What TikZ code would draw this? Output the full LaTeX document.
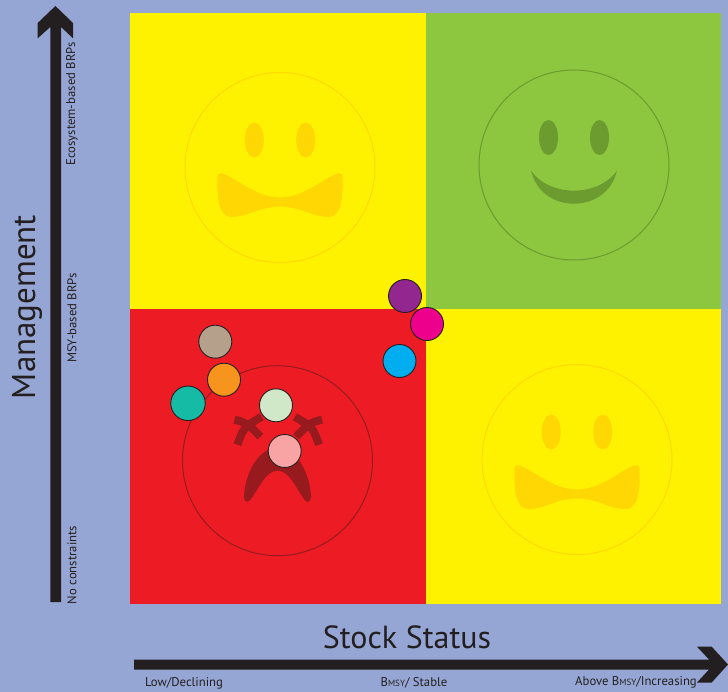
\documentclass[tikz,border=0pt]{standalone}
\usepackage{fontspec}
\setmainfont{PT Sans}
\usetikzlibrary{positioning,calc}
\definecolor{bgblue}{HTML}{96A6D4}
\definecolor{quadyellow}{HTML}{FFF200}
\definecolor{quadgreen}{HTML}{8DC63F}
\definecolor{quadred}{HTML}{ED1C24}
\definecolor{inkyellow}{HTML}{FFD803}
\definecolor{inkgreen}{HTML}{6C9C2F}
\definecolor{inkred}{HTML}{961A1E}
\definecolor{arrowink}{HTML}{231F20}
\tikzset{
  quad/.style={minimum width=296pt, minimum height=296pt, inner sep=0pt, outer sep=0pt},
  dot/.style={circle, draw=arrowink, line width=0.9pt, minimum size=33pt, inner sep=0pt},
  axistitle/.style={text=arrowink, font=\fontsize{32}{32}\selectfont, inner sep=0pt},
  ticklabel/.style={text=arrowink, font=\fontsize{12.7}{12.7}\selectfont, inner sep=0pt},
}
% eyes, outline and wavy mouth of the two neutral faces
\newcommand{\neutralface}[1]{
  \begin{scope}[shift={(#1)}]
    \draw[inkyellow, line width=1pt] (0,0) circle (95);
    \fill[inkyellow] (-25.7,-27.5) ellipse (9.5 and 17.5);
    \fill[inkyellow] (25.7,-27.5) ellipse (9.5 and 17.5);
    \fill[inkyellow] (-58,6) .. controls (-45,9) and (-25,30) .. (0,30)
      .. controls (25,30) and (45,9) .. (58,6)
      .. controls (61,5) and (62.7,7) .. (62.7,10)
      .. controls (62.7,30) and (62,49.5) .. (48,49.5)
      .. controls (32,49.5) and (20,39) .. (0,39)
      .. controls (-20,39) and (-32,49.5) .. (-48,49.5)
      .. controls (-62,49.5) and (-62.7,30) .. (-62.7,10)
      .. controls (-62.7,7) and (-61,5) .. (-58,6) -- cycle;
  \end{scope}
}
\newcommand{\bmsy}{B{\fontsize{9}{9}\selectfont MSY}}
\begin{document}
\begin{tikzpicture}[x=1pt,y=-1pt]
  \useasboundingbox (0,0) rectangle (728,692);
  \fill[bgblue] (0,0) rectangle (728,692);

  % quadrants
  \node[quad, fill=quadyellow] (topleft) at (278,161) {};
  \node[quad, fill=quadgreen, right=0pt of topleft, minimum width=295pt] (topright) {};
  \node[quad, fill=quadred, below=0pt of topleft, minimum height=295pt] (botleft) {};
  \node[quad, fill=quadyellow, right=0pt of botleft, minimum width=295pt, minimum height=295pt] (botright) {};

  % faces
  \neutralface{280,167.5}
  \neutralface{577,459.5}

  \begin{scope}[shift={(574,165)}]
    \draw[inkgreen, line width=1pt] (0,0) circle (95);
    \fill[inkgreen] (-25.5,-27.5) ellipse (9.5 and 17.5);
    \fill[inkgreen] (25.5,-27.5) ellipse (9.5 and 17.5);
    \fill[inkgreen] (-43,5.5) .. controls (-33,20) and (-15,25.7) .. (0,25.7)
      .. controls (15,25.7) and (33,20) .. (43,5.5)
      .. controls (38,27) and (20,38.7) .. (0,38.7)
      .. controls (-20,38.7) and (-38,27) .. (-43,5.5) -- cycle;
  \end{scope}

  \begin{scope}[shift={(277.5,460.7)}]
    \draw[inkred, line width=1pt] (0,0) circle (95);
    \foreach \s/\d in {-1/0,1/1.5}{
      \draw[inkred, line width=8pt] (\s*43+\d,-41) .. controls (\s*31+\d,-38) .. (\s*17+\d,-24);
      \draw[inkred, line width=8pt] (\s*40+\d,-16) .. controls (\s*34+\d,-33) .. (\s*16+\d,-44);
    }
    \fill[inkred] (-33.5,36) .. controls (-33,15) and (-20,-13) .. (0,-13)
      .. controls (20,-13) and (33,15) .. (33.5,36)
      .. controls (33.5,41) and (30,43) .. (27,39)
      .. controls (18,27) and (12,10) .. (0,10)
      .. controls (-12,10) and (-18,27) .. (-27,39)
      .. controls (-30,43) and (-33.5,41) .. (-33.5,36) -- cycle;
  \end{scope}

  % dots
  \node[dot, fill={rgb,255:red,181;green,160;blue,140}] (brown) at (215.3,341.7) {};
  \node[dot, fill={rgb,255:red,247;green,148;blue,29}] (orange) at (224,379.7) {};
  \node[dot, fill={rgb,255:red,22;green,187;blue,166}, minimum size=34.5pt] (teal) at (188,403.3) {};
  \node[dot, fill={rgb,255:red,209;green,232;blue,200}] (pale) at (276,405.3) {};
  \node[dot, fill={rgb,255:red,248;green,164;blue,164}] (pink) at (284.7,451) {};
  \node[dot, fill={rgb,255:red,146;green,39;blue,143}] (purple) at (405,296) {};
  \node[dot, fill={rgb,255:red,236;green,0;blue,140}] (magenta) at (427,324) {};
  \node[dot, fill={rgb,255:red,0;green,174;blue,239}] (blue) at (399.5,361) {};

  % axes
  \fill[arrowink] (50.3,602) -- (50.3,27) -- (37.7,38.3) -- (37.7,23) -- (55.4,6)
    -- (73,23) -- (73,38.3) -- (61,27) -- (61,602) -- cycle;
  \fill[arrowink] (134,659.5) -- (709,659.5) -- (697,646.7) -- (711.7,646.7) -- (728,664.5)
    -- (711.7,682.5) -- (697,682.5) -- (709,669.5) -- (134,669.5) -- cycle;

  \node[axistitle, rotate=90, font=\fontsize{33}{33}\selectfont] (management) at (27,307) {Management};
  \node[axistitle] (stockstatus) at (407,637) {Stock Status};
  \node[ticklabel, rotate=90] (ecosystem) at (72,104) {Ecosystem-based BRPs};
  \node[ticklabel, rotate=90] (msybased) at (72,318) {MSY-based BRPs};
  \node[ticklabel, rotate=90] (noconstraints) at (72,565) {No constraints};
  \node[ticklabel] (low) at (184,683) {Low/Declining};
  \node[ticklabel] (stable) at (414,683) {\bmsy/ Stable};
  \node[ticklabel] (above) at (636,682) {Above \bmsy/Increasing};
\end{tikzpicture}
\end{document}
